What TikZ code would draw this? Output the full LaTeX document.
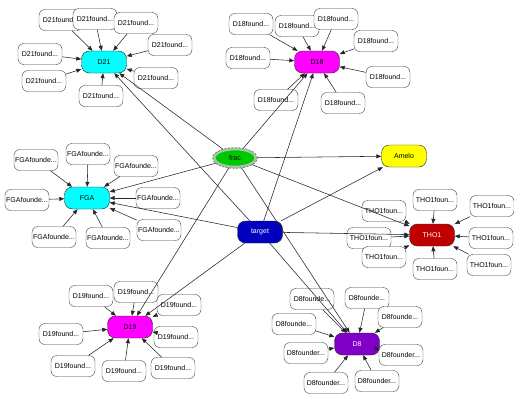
\documentclass[tikz,border=0pt]{standalone}
\usepackage{fontspec}
\setmainfont{Liberation Sans}
\usetikzlibrary{arrows.meta,shapes.geometric}
\definecolor{hcyan}{RGB}{0,255,255}
\definecolor{hmag}{RGB}{255,0,255}
\definecolor{hpur}{RGB}{128,0,200}
\definecolor{hblue}{RGB}{0,0,190}
\definecolor{hred}{RGB}{190,0,0}
\definecolor{hyel}{RGB}{255,255,0}
\definecolor{hgreen}{RGB}{0,200,0}
\definecolor{fracring}{RGB}{165,200,165}
\begin{document}
\begin{tikzpicture}[x=1pt,y=-1pt,
  leaf/.style={draw=black!75, fill=white, rounded corners=6pt, minimum width=44pt, minimum height=21pt, inner sep=0pt, font=\fontsize{7}{8}\selectfont},
  hub/.style={draw=black!85, rounded corners=8pt, minimum width=45pt, minimum height=22pt, inner sep=0pt, font=\fontsize{7}{8}\selectfont},
  arr/.style={-{Triangle[length=5pt,width=4pt]}, draw=black!85, line width=0.55pt}]
\fill[white] (0,0) rectangle (514,394);
\useasboundingbox (0,0) rectangle (514,394);
% hubs
\node[hub, fill=hcyan] (D21) at (104,62) {D21};
\node[hub, fill=hmag] (D18) at (317,62) {D18};
\node[hub, fill=hcyan] (FGA) at (87,198) {FGA};
\node[hub, fill=hyel] (Amelo) at (404,156) {Amelo};
\node[hub, fill=hblue, text=white] (target) at (260,232) {target};
\node[hub, fill=hred, text=white] (THO1) at (432,235) {THO1};
\node[hub, fill=hmag] (D19) at (130,327) {D19};
\node[hub, fill=hpur, text=white!85!pink] (D8) at (357,344) {D8};
\node[ellipse, draw=fracring, line width=2.6pt, fill=hgreen, minimum width=42pt, minimum height=18pt, inner sep=0pt, font=\fontsize{7}{8}\selectfont] (frac) at (235,158) {frac};
\draw[gray, line width=0.9pt, dash pattern=on 2pt off 1.5pt] (frac.center) ellipse [x radius=22.3pt, y radius=10.3pt];
% D21 leaves
\node[leaf] (a1) at (61,20) {D21found...};
\node[leaf] (a2) at (95,19) {D21found...};
\node[leaf] (a3) at (136,23) {D21found...};
\node[leaf] (a4) at (170,45) {D21found...};
\node[leaf] (a5) at (40,54) {D21found...};
\node[leaf] (a6) at (44,81) {D21found...};
\node[leaf] (a7) at (101,96) {D21found...};
\node[leaf] (a8) at (156,78) {D21found...};
% D18 leaves
\node[leaf] (b1) at (251,24) {D18found...};
\node[leaf] (b2) at (297,26) {D18found...};
\node[leaf] (b3) at (336,19) {D18found...};
\node[leaf] (b4) at (376,41) {D18found...};
\node[leaf] (b5) at (248,58) {D18found...};
\node[leaf] (b6) at (388,77) {D18found...};
\node[leaf] (b7) at (276,100) {D18found...};
\node[leaf] (b8) at (343,103) {D18found...};
% FGA leaves
\node[leaf] (c1) at (36,160) {FGAfounde...};
\node[leaf] (c2) at (88,154) {FGAfounde...};
\node[leaf] (c3) at (136,166) {FGAfounde...};
\node[leaf] (c4) at (27,200) {FGAfounde...};
\node[leaf] (c5) at (158,198) {FGAfounde...};
\node[leaf] (c6) at (54,237) {FGAfounde...};
\node[leaf] (c7) at (108,238) {FGAfounde...};
\node[leaf] (c8) at (159,230) {FGAfounde...};
% THO1 leaves
\node[leaf] (d1) at (384,211) {THO1foun...};
\node[leaf] (d2) at (435,200) {THO1foun...};
\node[leaf] (d3) at (492,206) {THO1foun...};
\node[leaf] (d4) at (369,238) {THO1foun...};
\node[leaf] (d5) at (384,257) {THO1foun...};
\node[leaf] (d6) at (491,238) {THO1foun...};
\node[leaf] (d7) at (435,269) {THO1foun...};
\node[leaf] (d8) at (489,265) {THO1foun...};
% D19 leaves
\node[leaf] (e1) at (91,296) {D19found...};
\node[leaf] (e2) at (136,292) {D19found...};
\node[leaf] (e3) at (179,305) {D19found...};
\node[leaf] (e4) at (61,334) {D19found...};
\node[leaf] (e5) at (176,337) {D19found...};
\node[leaf] (e6) at (73,366) {D19found...};
\node[leaf] (e7) at (124,371) {D19found...};
\node[leaf] (e8) at (173,368) {D19found...};
% D8 leaves
\node[leaf] (f1) at (312,299) {D8founde...};
\node[leaf] (f2) at (367,298) {D8founde...};
\node[leaf] (f3) at (400,317) {D8founde...};
\node[leaf] (f4) at (294,324) {D8founde...};
\node[leaf] (f5) at (306,353) {D8founder...};
\node[leaf] (f6) at (401,355) {D8founder...};
\node[leaf] (f7) at (326,383) {D8founder...};
\node[leaf] (f8) at (377,381) {D8founder...};
% leaf edges
\foreach \l in {a1,a2,a3,a4,a5,a6,a7,a8} \draw[arr] (\l) -- (D21);
\foreach \l in {b1,b2,b3,b4,b5,b6,b7,b8} \draw[arr] (\l) -- (D18);
\foreach \l in {c1,c2,c3,c4,c5,c6,c7,c8} \draw[arr] (\l) -- (FGA);
\foreach \l in {d1,d2,d3,d4,d5,d6,d7,d8} \draw[arr] (\l) -- (THO1);
\foreach \l in {e1,e2,e3,e4,e5,e6,e7,e8} \draw[arr] (\l) -- (D19);
\foreach \l in {f1,f2,f3,f4,f5,f6,f7,f8} \draw[arr] (\l) -- (D8);
% hub edges
\foreach \h in {D21,D18,FGA,Amelo,THO1,D19,D8} {
  \draw[arr] (target) -- (\h);
  \draw[arr] (frac) -- (\h);
}
\end{tikzpicture}
\end{document}
